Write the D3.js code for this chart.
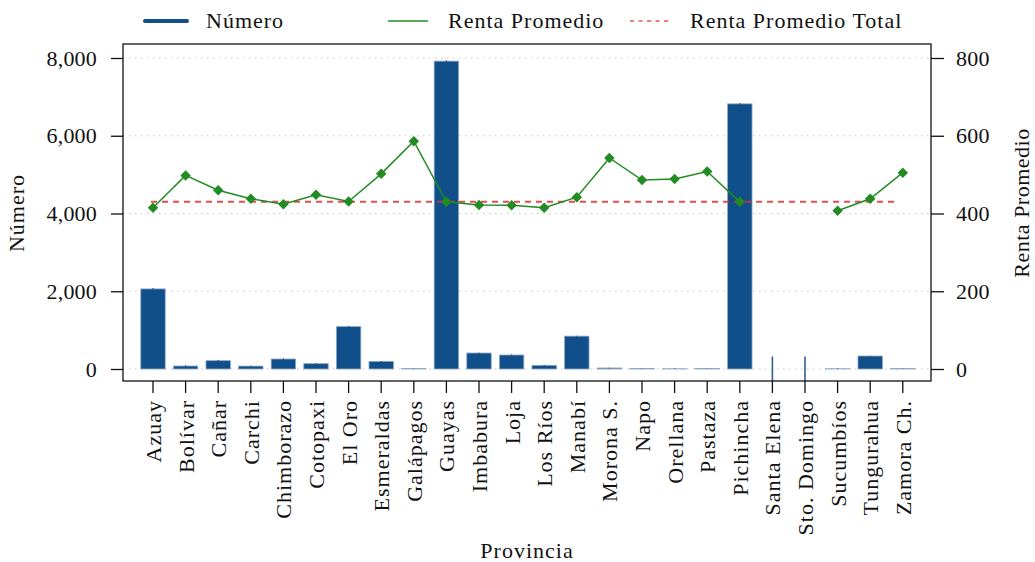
<!DOCTYPE html>
<html><head><meta charset="utf-8">
<script src="https://cdn.jsdelivr.net/npm/d3@7"></script>
<style>
body{margin:0;background:#fff;}
svg text{font-family:"Liberation Serif","DejaVu Serif",serif;fill:#111;letter-spacing:1px;}
svg .num text{letter-spacing:0.2px;}
</style></head>
<body><svg id="c" width="1035" height="562"></svg>
<script>
const provincias = ["Azuay","Bolívar","Cañar","Carchi","Chimborazo","Cotopaxi","El Oro","Esmeraldas","Galápagos","Guayas","Imbabura","Loja","Los Ríos","Manabí","Morona S.","Napo","Orellana","Pastaza","Pichincha","Santa Elena","Sto. Domingo","Sucumbíos","Tungurahua","Zamora Ch."];
const numero = [2060,77,214,75,257,137,1090,197,10,7920,411,360,94,845,26,15,5,15,6820,0,0,5,334,10];
const numeroErr = [15,10,10,10,10,10,10,10,5,15,10,10,10,10,5,5,5,5,15,320,320,5,10,5];
const renta = [415,498,460,438,424,448,431,502,586,430,422,421,415,442,543,486,489,508,430,null,null,407,438,505];
const rentaTotal = 430;
const leftTicks = [0,2000,4000,6000,8000];
const rightTicks = [0,200,400,600,800];

const svg = d3.select("#c");
const L=123,R=931,T=44,B=381;
const blue="#114f8a", green="#228b22", red="#dd3030";
const FF='"Liberation Serif","DejaVu Serif",serif';

const x = d3.scaleBand().domain(provincias).range([136.7,919.1]).paddingInner(0.25).paddingOuter(0.125);
const y = d3.scaleLinear().domain([0,8000]).range([369,58]);
const y2 = d3.scaleLinear().domain([0,800]).range([369,58]);
const cx = p => x(p)+x.bandwidth()/2;

// grid
svg.append("g").selectAll("line").data(leftTicks).join("line")
  .attr("x1",L).attr("x2",R).attr("y1",d=>y(d)).attr("y2",d=>y(d))
  .attr("stroke","#c8c8c8").attr("stroke-width",1.2).attr("stroke-dasharray","1.5,4.5");

// bars
svg.append("g").selectAll("rect").data(provincias).join("rect")
  .attr("x",p=>x(p)).attr("width",x.bandwidth())
  .attr("y",(p,i)=>y(numero[i])).attr("height",(p,i)=>y(0)-y(numero[i]))
  .attr("fill",blue).attr("stroke","#8fa9c8").attr("stroke-width",0.8);

// error bars
svg.append("g").selectAll("line").data(provincias).join("line")
  .attr("x1",cx).attr("x2",cx)
  .attr("y1",(p,i)=>y(numero[i]+numeroErr[i])).attr("y2",(p,i)=>y(numero[i]-numeroErr[i]))
  .attr("stroke",(p,i)=>numeroErr[i]>100?"#2f5f96":"#1a2a3a").attr("stroke-width",(p,i)=>numeroErr[i]>100?1.6:1.1);

// total line
svg.append("line").attr("x1",cx(provincias[0])-2).attr("x2",cx(provincias[provincias.length-1])-5)
  .attr("y1",y2(rentaTotal)).attr("y2",y2(rentaTotal))
  .attr("stroke",red).attr("stroke-width",2).attr("stroke-opacity",0.85).attr("stroke-dasharray","6,5");

// renta line
const line = d3.line().defined(d=>d.v!=null).x(d=>cx(d.p)).y(d=>y2(d.v));
const rdata = provincias.map((p,i)=>({p,v:renta[i]}));
svg.append("path").datum(rdata).attr("d",line).attr("fill","none").attr("stroke",green).attr("stroke-width",1.5);
svg.append("g").selectAll("path").data(rdata.filter(d=>d.v!=null)).join("path")
  .attr("d",d3.symbol(d3.symbolDiamond2,70)())
  .attr("transform",d=>`translate(${cx(d.p)},${y2(d.v)})`)
  .attr("fill",green);

// frame
svg.append("rect").attr("x",L).attr("y",T).attr("width",R-L).attr("height",B-T)
  .attr("fill","none").attr("stroke","#111").attr("stroke-width",1.3);

// axes
const fs=22;
const gl = svg.append("g").attr("class","num").attr("transform",`translate(${L},0)`)
  .call(d3.axisLeft(y).tickValues(leftTicks).tickFormat(d3.format(",")).tickSize(12).tickPadding(14));
const gr = svg.append("g").attr("class","num").attr("transform",`translate(${R},0)`)
  .call(d3.axisRight(y2).tickValues(rightTicks).tickSize(13).tickPadding(12));
const gb = svg.append("g").attr("transform",`translate(0,${B})`)
  .call(d3.axisBottom(x).tickSize(12).tickPadding(6));
[gl,gr,gb].forEach(g=>{
  g.select(".domain").remove();
  g.selectAll(".tick line").attr("stroke","#111").attr("stroke-width",1.3);
  g.selectAll("text").attr("font-family",FF).attr("font-size",fs).attr("fill","#111");
});
gb.selectAll(".tick text").attr("text-anchor","end").attr("dy",null)
  .attr("transform","rotate(-90)").attr("x",-19).attr("y",0).attr("dy","0.36em");

// axis titles
svg.append("text").attr("transform","translate(24,213) rotate(-90)").attr("text-anchor","middle").attr("font-size",fs).text("Número");
svg.append("text").attr("transform","translate(1029,203) rotate(-90)").attr("text-anchor","middle").attr("font-size",fs).style("letter-spacing","0.5px").text("Renta Promedio");
svg.append("text").attr("x",527).attr("y",558).attr("text-anchor","middle").attr("font-size",fs).text("Provincia");

// legend
const ly=21;
const lg = svg.append("g");
lg.append("line").attr("x1",145).attr("x2",187).attr("y1",ly).attr("y2",ly).attr("stroke",blue).attr("stroke-width",4).attr("stroke-linecap","round");
lg.append("text").attr("x",206).attr("y",ly+7).attr("font-size",fs).text("Número");
lg.append("line").attr("x1",388).attr("x2",428).attr("y1",ly).attr("y2",ly).attr("stroke",green).attr("stroke-width",1.3);
lg.append("text").attr("x",448).attr("y",ly+7).attr("font-size",fs).text("Renta Promedio");
lg.append("line").attr("x1",630).attr("x2",669).attr("y1",ly).attr("y2",ly).attr("stroke","#e00000").attr("stroke-width",1.2).attr("stroke-dasharray","4,4.5");
lg.append("text").attr("x",690).attr("y",ly+7).attr("font-size",fs).text("Renta Promedio Total");
</script></body></html>
